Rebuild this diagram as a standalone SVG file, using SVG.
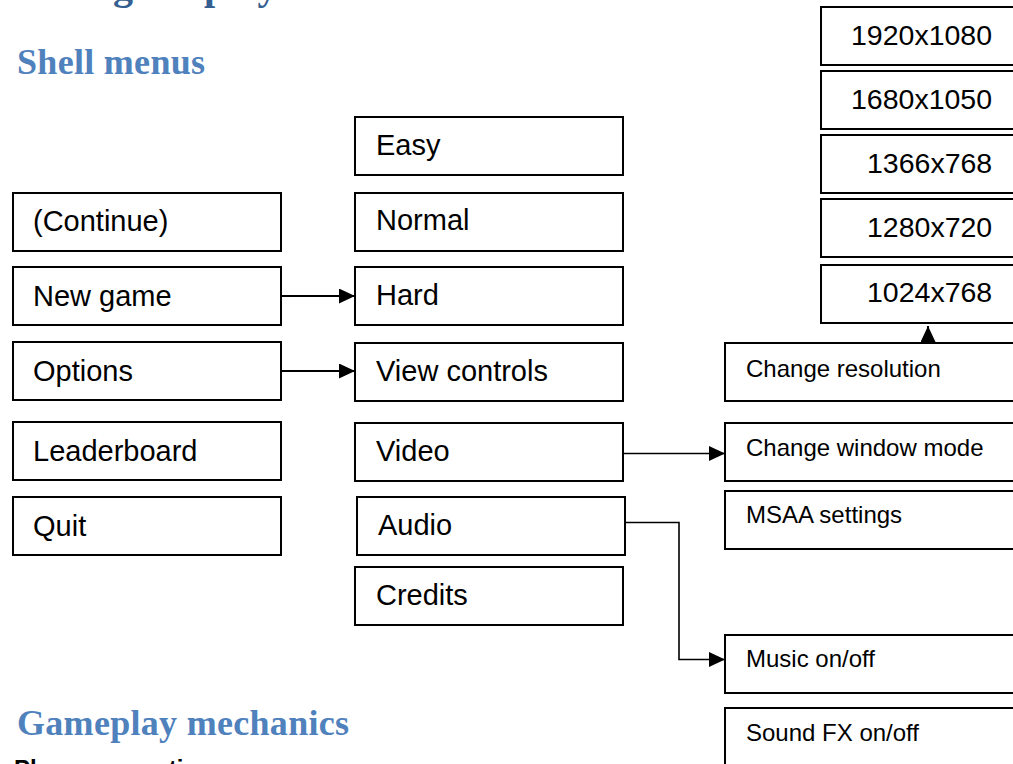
<svg xmlns="http://www.w3.org/2000/svg" width="1013" height="764" viewBox="0 0 1013 764">
<style>
.box{fill:#fff;stroke:#000;stroke-width:2}
.t{font-family:"Liberation Sans",Arial,sans-serif;font-size:29px;fill:#000}
.s{font-family:"Liberation Sans",Arial,sans-serif;font-size:24px;fill:#000}
.r{font-family:"Liberation Sans",Arial,sans-serif;font-size:28.5px;fill:#000}
.h2{font-family:"Liberation Serif","Times New Roman",serif;font-weight:bold;font-size:36px;fill:#4F81BD;letter-spacing:0.3px}
.h1{font-family:"Liberation Serif","Times New Roman",serif;font-weight:bold;font-size:40px;fill:#365F91}
.h3{font-family:"Liberation Sans",Arial,sans-serif;font-weight:bold;font-size:24px;fill:#000}
.c{fill:none;stroke:#000;stroke-width:2}
</style>
<defs>
<marker id="arr" viewBox="0 0 16 15" refX="16" refY="7.5" markerWidth="16" markerHeight="15" markerUnits="userSpaceOnUse" orient="auto" preserveAspectRatio="none">
<path d="M0,0 L16,7.5 L0,15 z" fill="#000"/>
</marker>
</defs>
<rect width="1013" height="764" fill="#fff"/>
<text class="h1" x="113" y="-1">gameplay</text>
<text class="h2" x="17" y="74">Shell menus</text>
<text class="h2" x="17" y="735">Gameplay mechanics</text>
<text class="h3" x="14" y="777">Player properties</text>

<g id="connectors">
<line class="c" x1="282" y1="296" x2="355" y2="296" marker-end="url(#arr)"/>
<line class="c" x1="282" y1="371" x2="355" y2="371" marker-end="url(#arr)"/>
<line class="c" x1="624" y1="453.5" x2="725" y2="453.5" marker-end="url(#arr)" style="stroke-width:1.6"/>
<polyline class="c" points="626,522.5 679,522.5 679,659.5 725,659.5" marker-end="url(#arr)" style="stroke-width:1.6"/>
<line class="c" x1="928" y1="342" x2="928" y2="326" marker-end="url(#arr)"/>
</g>

<g id="n-continue"><rect class="box" x="13" y="193" width="268" height="58"/><text class="t" x="33" y="231">(Continue)</text></g>
<g id="n-newgame"><rect class="box" x="13" y="267" width="268" height="58"/><text class="t" x="33" y="306">New game</text></g>
<g id="n-options"><rect class="box" x="13" y="342" width="268" height="58"/><text class="t" x="33" y="381">Options</text></g>
<g id="n-leaderboard"><rect class="box" x="13" y="422" width="268" height="58"/><text class="t" x="33" y="461">Leaderboard</text></g>
<g id="n-quit"><rect class="box" x="13" y="497" width="268" height="58"/><text class="t" x="33" y="536">Quit</text></g>

<g id="n-easy"><rect class="box" x="355" y="117" width="268" height="58"/><text class="t" x="376" y="155">Easy</text></g>
<g id="n-normal"><rect class="box" x="355" y="193" width="268" height="58"/><text class="t" x="376" y="230">Normal</text></g>
<g id="n-hard"><rect class="box" x="355" y="267" width="268" height="58"/><text class="t" x="376" y="305">Hard</text></g>
<g id="n-viewcontrols"><rect class="box" x="355" y="343" width="268" height="58"/><text class="t" x="376" y="381">View controls</text></g>
<g id="n-video"><rect class="box" x="355" y="423" width="268" height="58"/><text class="t" x="376" y="461">Video</text></g>
<g id="n-audio"><rect class="box" x="357" y="497" width="268" height="58"/><text class="t" x="378" y="535">Audio</text></g>
<g id="n-credits"><rect class="box" x="355" y="567" width="268" height="58"/><text class="t" x="376" y="605">Credits</text></g>

<g id="n-1920"><rect class="box" x="821" y="7" width="200" height="58"/><text class="r" x="851" y="45">1920x1080</text></g>
<g id="n-1680"><rect class="box" x="821" y="71" width="200" height="58"/><text class="r" x="851" y="109">1680x1050</text></g>
<g id="n-1366"><rect class="box" x="821" y="135" width="200" height="58"/><text class="r" x="867" y="173">1366x768</text></g>
<g id="n-1280"><rect class="box" x="821" y="199" width="200" height="58"/><text class="r" x="867" y="237">1280x720</text></g>
<g id="n-1024"><rect class="box" x="821" y="265" width="200" height="58"/><text class="r" x="867" y="302">1024x768</text></g>

<g id="n-changeres"><rect class="box" x="725" y="343" width="300" height="58"/><text class="s" x="746" y="377">Change resolution</text></g>
<g id="n-windowmode"><rect class="box" x="725" y="423" width="300" height="58"/><text class="s" x="746" y="456">Change window mode</text></g>
<g id="n-msaa"><rect class="box" x="725" y="491" width="300" height="58"/><text class="s" x="746" y="523">MSAA settings</text></g>
<g id="n-music"><rect class="box" x="725" y="635" width="300" height="58"/><text class="s" x="746" y="667">Music on/off</text></g>
<g id="n-soundfx"><rect class="box" x="725" y="708" width="300" height="60"/><text class="s" x="746" y="741">Sound FX on/off</text></g>
</svg>
